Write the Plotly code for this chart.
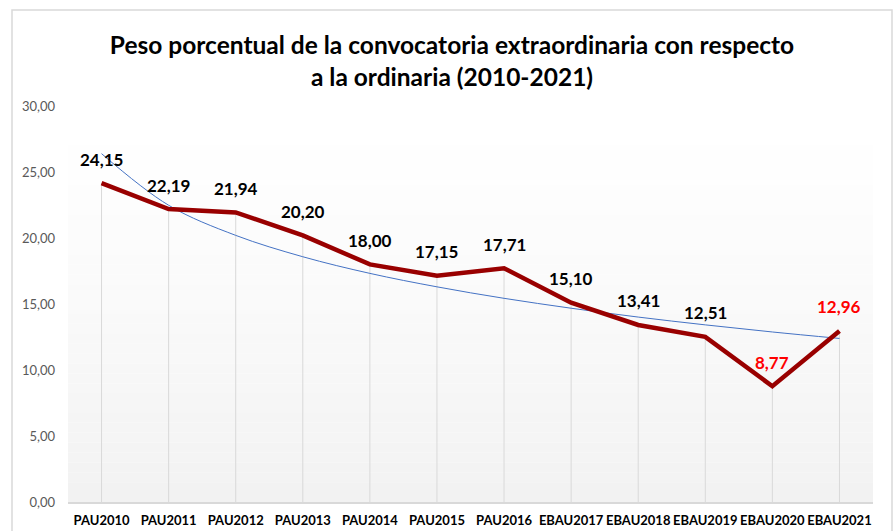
import plotly.graph_objects as go

categories = ["PAU2010", "PAU2011", "PAU2012", "PAU2013", "PAU2014", "PAU2015",
              "PAU2016", "EBAU2017", "EBAU2018", "EBAU2019", "EBAU2020", "EBAU2021"]
values = [24.15, 22.19, 21.94, 20.20, 18.00, 17.15, 17.71, 15.10, 13.41, 12.51, 8.77, 12.96]
# logarithmic trend line
trend = [26.39, 22.48, 20.20, 18.58, 17.32, 16.30, 15.43, 14.68, 14.01, 13.42, 12.88, 12.39]
label_colors = ["#000000"] * 10 + ["#FF0000", "#FF0000"]
y_ticks = [0, 5, 10, 15, 20, 25, 30]

title = "<b>Peso porcentual de la convocatoria extraordinaria con respecto<br>a la ordinaria (2010-2021)</b>"

fig = go.Figure()

# drop lines from each point to the axis
fig.add_trace(go.Scatter(
    x=categories, y=values, mode="markers",
    marker=dict(size=0.1, opacity=0),
    error_y=dict(type="data", symmetric=False, array=[0] * len(values),
                 arrayminus=values, color="#d9d9d9", thickness=1, width=0),
    hoverinfo="skip", showlegend=False,
))

fig.add_trace(go.Scatter(
    x=categories, y=trend, mode="lines",
    line=dict(color="#4472C4", width=1, shape="spline"),
    showlegend=False,
))

fig.add_trace(go.Scatter(
    x=categories, y=values, mode="lines",
    line=dict(color="#990000", width=4.5),
    showlegend=False,
))

for c, v, col in zip(categories, values, label_colors):
    fig.add_annotation(x=c, y=v, text="<b>" + f"{v:.2f}".replace(".", ",") + "</b>",
                       showarrow=False, yshift=24,
                       font=dict(family="Lato, Open Sans, sans-serif", size=17, color=col))

# gradient plot background
n = 40
for i in range(n):
    t = i / (n - 1)
    g = int(round(255 - (255 - 242) * t ** 1.3))
    fig.add_shape(type="rect", xref="x domain", yref="y domain",
                  x0=0, x1=1, y0=1 - (i + 1) / n, y1=1 - i / n,
                  fillcolor=f"rgb({g},{g},{g})", line=dict(width=0), layer="below")

# outer chart border
fig.add_shape(type="rect", xref="paper", yref="paper",
              x0=(12 - 68) / 805, x1=(892 - 68) / 805,
              y0=-0.2, y1=(502 - 10) / 396,
              line=dict(color="#d9d9d9", width=1.5), fillcolor="rgba(0,0,0,0)")

fig.update_layout(
    width=893, height=531,
    margin=dict(l=68, r=20, t=106, b=29, autoexpand=False),
    paper_bgcolor="white", plot_bgcolor="white",
    separators=",.",
    title=dict(text=title, x=452 / 893, xanchor="center", y=0.898, yanchor="middle",
               font=dict(family="Lato, Open Sans, sans-serif", size=24.5, color="#000000")),
    xaxis=dict(range=[-0.5, 11.5], showgrid=False, showline=True, linecolor="#d9d9d9",
               linewidth=1.5, ticks="", automargin=False, ticklabelstandoff=6,
               tickfont=dict(family="Lato, Open Sans, sans-serif", size=13, color="#000000", weight="bold")),
    yaxis=dict(range=[0, 30], tickvals=y_ticks, tickformat=".2f", showgrid=False,
               zeroline=False, showline=False, ticks="", ticklabelstandoff=12, automargin=False,
               tickfont=dict(family="Lato, Open Sans, sans-serif", size=13, color="#595959")),
)

fig.write_html("out.html", config={"displayModeBar": False},
               post_script="document.body.style.margin='0';")
